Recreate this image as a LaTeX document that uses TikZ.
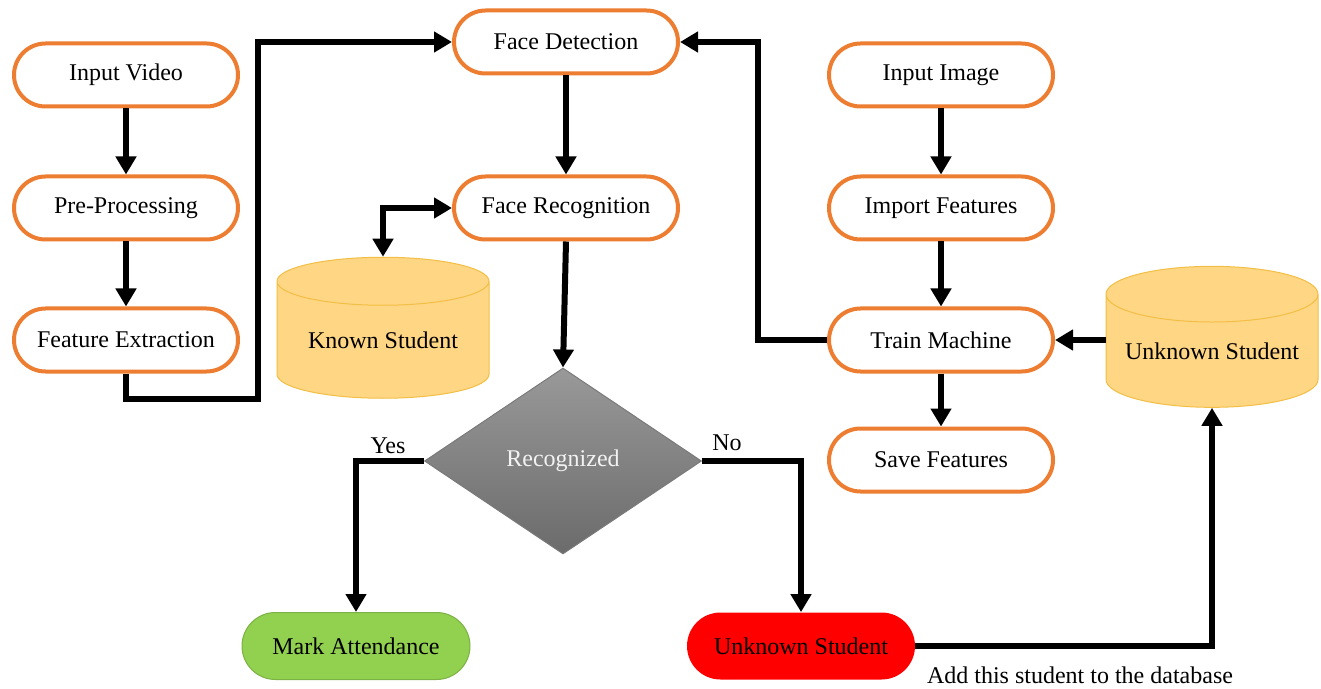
\documentclass[tikz,border=0pt]{standalone}
\usepackage{fontspec}
\setmainfont{Liberation Serif}
\usetikzlibrary{arrows.meta,shapes.geometric}
\definecolor{boxorange}{HTML}{ED7D31}
\definecolor{dbfill}{HTML}{FFD684}
\definecolor{dbline}{HTML}{F2BE45}
\definecolor{markgreen}{HTML}{92D050}
\definecolor{decgray}{HTML}{7A7A7A}
\begin{document}
\begin{tikzpicture}[x=0.5pt,y=-0.5pt,
    font=\fontsize{12}{14}\selectfont,
    proc/.style={draw=boxorange,line width=2pt,fill=white,rounded corners=15.75pt,
      minimum width=112pt,minimum height=31.5pt,inner sep=0pt},
    endbox/.style={rounded corners=16.75pt,minimum width=114pt,minimum height=33.5pt,inner sep=0pt},
    db/.style={cylinder,shape border rotate=90,aspect=0.32,draw=dbline,fill=dbfill,
      line width=0.5pt,minimum width=106pt,minimum height=70.5pt,inner sep=0pt},
    decision/.style={diamond,draw=decgray,line width=0.5pt,top color=black!40,bottom color=black!58,
      minimum width=138.5pt,minimum height=93pt,inner sep=0pt,text=black!5},
    flow/.style={line width=3pt,-{Triangle[length=9pt,width=10pt]}},
    both/.style={line width=3pt,{Triangle[length=9pt,width=10pt]}-{Triangle[length=9pt,width=10pt]}}]
    \useasboundingbox (0,0) rectangle (1321,689);
    \node (iv) at (126,75) [proc] {Input Video};
    \node (pp) at (126,208) [proc] {Pre-Processing};
    \node (fe) at (126,340) [proc] {Feature Extraction};
    \node (fd) at (566,42) [proc] {Face Detection};
    \node (fr) at (566,208) [proc] {Face Recognition};
    \node (ks) at (383,340) [db] {Known Student};
    \node (ii) at (941,75) [proc] {Input Image};
    \node (if) at (941,208) [proc] {Import Features};
    \node (tm) at (941,340) [proc] {Train Machine};
    \node (sf) at (941,460) [proc] {Save Features};
    \node (uk) at (1212,351) [db] {Unknown Student};
    \node (dec) at (563,461) [decision] {Recognized};
    \node (ma) at (356,646) [endbox,fill=markgreen,draw=markgreen!85!black,line width=0.5pt] {Mark Attendance};
    \node (us) at (801,646) [endbox,fill=red] {Unknown Student};
    \node (yes) at (388,446) {Yes};
    \node (no) at (727,443) {No};
    \node (add) at (1080,675) {Add this student to the database};
    \coordinate (c1) at (258,42);
    \draw[flow] (iv) -- (pp);
    \draw[flow] (pp) -- (fe);
    \draw[flow] (fe.south) -- ++(0,25) -| (c1) -- (fd.west);
    \draw[flow] (fd) -- (fr);
    \draw[both] (ks.north) |- (fr.west);
    \draw[flow] (fr.south) -- (dec.north);
    \draw[flow] (dec.west) -| (ma.north);
    \draw[flow] (dec.east) -| (us.north);
    \draw[flow] (us.east) -| (uk.south);
    \draw[flow] (ii) -- (if);
    \draw[flow] (if) -- (tm);
    \draw[flow] (tm) -- (sf);
    \draw[flow] (uk.west |- tm.east) -- (tm.east);
    \draw[flow] (tm.west) -- ++(-69,0) |- (fd.east);
\end{tikzpicture}
\end{document}
